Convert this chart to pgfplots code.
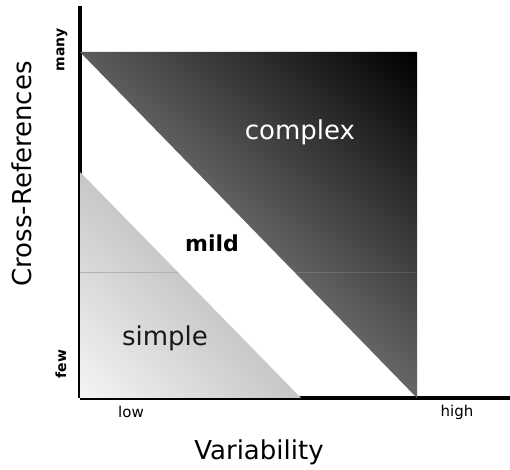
\documentclass[border=0pt]{standalone}
\usepackage{pgfplots}
\pgfplotsset{compat=1.18}
\usetikzlibrary{shadings}
\usepackage{fontspec}
\setmainfont{DejaVu Sans}
\newcommand{\fs}[1]{\fontsize{#1bp}{#1bp}\selectfont}
\begin{document}
\begin{tikzpicture}
\path[use as bounding box] (0,0) rectangle (510bp,470bp);
\begin{axis}[
  at={(80bp,72bp)}, anchor=south west,
  scale only axis, width=430bp, height=392bp,
  xmin=0, xmax=430, ymin=0, ymax=392,
  axis x line=bottom, axis y line=left,
  axis line style={-, line width=3bp, black},
  xtick=\empty, ytick=\empty,
  clip=false,
]
% dark region (complex)
\addplot[draw=none, upper left=black!64, upper right=black, lower right=black!60, lower left=black!25]
  coordinates {(0,346) (337,346) (337,0)} -- cycle;
% light region (simple)
\addplot[draw=none, upper left=black!22, upper right=black!37, lower right=black!22, lower left=black!4]
  coordinates {(0,226) (0,0) (221,0)} -- cycle;
% faint horizontal seam
\addplot[draw=black!30, line width=0.7bp] coordinates {(0,126) (98,126)};
\addplot[draw=white, draw opacity=0.12, line width=0.7bp] coordinates {(214,126) (337,126)};
\node[white, font=\fs{26}] at (axis cs:220,266) {complex};
\node[black, font=\fs{22}\bfseries] at (axis cs:132,155) {mild};
\node[black!90, font=\fs{26}] at (axis cs:85,60) {simple};
\node[font=\fs{26}] at (axis cs:179,-54) {Variability};
\node[font=\fs{26}, rotate=90] at (axis cs:-58,224) {Cross-References};
\node[font=\fs{14}\bfseries, rotate=90] at (axis cs:-18,348) {many};
\node[font=\fs{14}\bfseries, rotate=90] at (axis cs:-19,34) {few};
\node[font=\fs{15}] at (axis cs:51,-14) {low};
\node[font=\fs{15}] at (axis cs:377,-14) {high};
\end{axis}
\end{tikzpicture}
\end{document}
